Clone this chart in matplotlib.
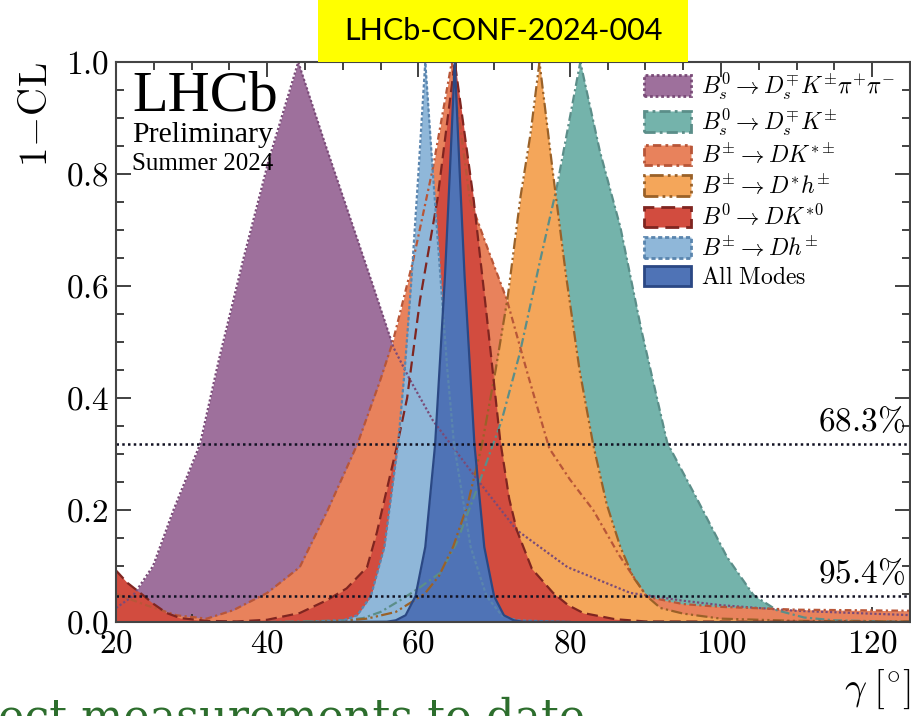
import matplotlib.pyplot as plt
from matplotlib.patches import Patch, Rectangle
from matplotlib.ticker import MultipleLocator, FuncFormatter

plt.rcParams['mathtext.fontset'] = 'cm'
plt.rcParams['font.family'] = ['Liberation Serif', 'DejaVu Serif']

# Escaneos 1-CL de gamma (grados) para cada modo
gam_dskpipi = [20, 22.2, 24.9, 27.6, 31.1, 33.6, 36.8, 40.2, 44.1, 47.5, 51.0, 54.0, 56.7,
               58.9, 61.9, 67.8, 73.0, 79.7, 88.0, 95, 100, 110, 125.5]
cl_dskpipi = [0.025, 0.046, 0.10, 0.20, 0.317, 0.468, 0.646, 0.825, 1.0, 0.86, 0.72, 0.60, 0.49,
              0.432, 0.36, 0.254, 0.164, 0.098, 0.052, 0.038, 0.03, 0.02, 0.012]

gam_dsk = [40, 45, 50, 52.7, 55, 57.6, 60, 62.9, 65, 67.8, 71, 73.4, 76, 78.3, 81.4,
           84, 86.7, 89.5, 92.9, 96.9, 100.8, 104.3, 107.4, 111, 115, 125.5]
cl_dsk = [0.0, 0.001, 0.003, 0.007, 0.018, 0.039, 0.06, 0.088, 0.14, 0.24, 0.36, 0.48, 0.64, 0.777, 1.0,
          0.84, 0.705, 0.52, 0.32, 0.218, 0.116, 0.048, 0.021, 0.008, 0.003, 0.0]

gam_dkst = [20, 24, 28, 32, 35.5, 40, 44.3, 48, 51.9, 54.9, 56.6, 59.3, 61.9, 64.4,
            66.8, 69.2, 71.7, 74.5, 77.3, 80, 83.1, 86.5, 90.2, 95, 100, 110, 125.5]
cl_dkst = [0.05, 0.03, 0.012, 0.006, 0.021, 0.052, 0.098, 0.20, 0.317, 0.43, 0.50, 0.646, 0.81, 1.0,
           0.754, 0.665, 0.575, 0.44, 0.31, 0.255, 0.2, 0.12, 0.045, 0.032, 0.027, 0.022, 0.02]

gam_dsth = [45, 50, 53.2, 57, 60.8, 62.7, 64.6, 66.5, 68.4, 70.2, 71.8, 73.5, 74.8, 76,
            77.8, 79.5, 81.3, 83.1, 84.9, 86.7, 88.4, 90.2, 92, 95, 100, 110, 125.5]
cl_dsth = [0.0, 0.002, 0.006, 0.018, 0.05, 0.082, 0.135, 0.21, 0.317, 0.45, 0.58, 0.76, 0.87, 1.0,
           0.8, 0.62, 0.45, 0.317, 0.21, 0.134, 0.08, 0.046, 0.025, 0.015, 0.006, 0.002, 0.001]

gam_dkst0 = [20, 21.5, 23.2, 25, 26.7, 28.5, 32, 36, 40, 44.3, 47.9, 50.5, 53.2, 54.5, 55.8,
             57.2, 58.5, 60.2, 62.5, 64.8, 67.3, 69, 70.8, 72, 73, 75, 77.8, 79.8, 81.8, 86, 90, 125.5]
cl_dkst0 = [0.092, 0.07, 0.052, 0.032, 0.016, 0.007, 0.002, 0.001, 0.004, 0.016, 0.039, 0.06, 0.098,
            0.16, 0.236, 0.317, 0.40, 0.575, 0.754, 1.0, 0.754, 0.55, 0.325, 0.22, 0.164, 0.095,
            0.052, 0.03, 0.016, 0.005, 0.001, 0.0]

gam_dh = [45, 50.1, 51.9, 53.7, 55.5, 57.3, 58.2, 59.1, 60.0, 60.9, 61.9, 62.9, 63.8, 64.7,
          66.9, 69.0, 71, 73, 80]
cl_dh = [0.0, 0.003, 0.012, 0.046, 0.134, 0.317, 0.453, 0.617, 0.803, 1.0, 0.803, 0.617, 0.453,
         0.317, 0.134, 0.046, 0.012, 0.003, 0.0]

gam_all = [50, 55.8, 57.0, 58.3, 59.6, 60.9, 62.2, 63.5, 64.15, 64.8, 65.45, 66.1, 67.4, 68.7,
           70.0, 71.3, 72.6, 73.8, 80]
cl_all = [0.0, 0.0005, 0.003, 0.012, 0.046, 0.134, 0.317, 0.617, 0.803, 1.0, 0.803, 0.617, 0.317,
          0.134, 0.046, 0.012, 0.003, 0.0005, 0.0]

etiquetas = [r'$B_s^0 \rightarrow D_s^{\mp} K^{\pm}\pi^{+}\pi^{-}$',
             r'$B_s^0 \rightarrow D_s^{\mp} K^{\pm}$',
             r'$B^{\pm} \rightarrow D K^{*\pm}$',
             r'$B^{\pm} \rightarrow D^{*} h^{\pm}$',
             r'$B^{0} \rightarrow D K^{*0}$',
             r'$B^{\pm} \rightarrow D h^{\pm}$',
             r'$\mathrm{All\ Modes}$']

# (x, y, relleno, borde, estilo de linea)
modos = [
    (gam_dskpipi, cl_dskpipi, '#9e709c', '#7a4b78', (0, (1, 1))),
    (gam_dsk, cl_dsk, '#74b3ab', '#5b8e89', (0, (4, 1.5, 1, 1.5))),
    (gam_dkst, cl_dkst, '#e8825c', '#b85638', (0, (3, 1.5, 1, 1.5))),
    (gam_dsth, cl_dsth, '#f4a65a', '#9a6128', (0, (5, 1.5, 1, 1.5, 1, 1.5))),
    (gam_dkst0, cl_dkst0, '#d24c3f', '#7f2520', (0, (5, 2.5))),
    (gam_dh, cl_dh, '#8fb7d9', '#5a85ae', (0, (1.5, 1))),
    (gam_all, cl_all, '#4f73b6', '#2b4884', '-'),
]

fig = plt.figure(figsize=(9.12, 7.16), dpi=100)
ax = fig.add_axes([116 / 912, 1 - 622 / 716, 794 / 912, 560 / 716])

for i, (x, y, fc, ec, ls) in enumerate(modos):
    ax.fill_between(x, y, 0, color=fc, lw=0, zorder=1 + i)
for x, y, fc, ec, ls in modos:
    ax.plot(x, y, color=ec, ls=ls, lw=1.6, zorder=10)

# Niveles de confianza
ax.axhline(0.317, color='#111122', ls=(0, (1, 1.3)), lw=1.8, zorder=12)
ax.axhline(0.046, color='#111122', ls=(0, (1, 1.3)), lw=1.8, zorder=12)
ax.text(124.4, 0.328, r'$68.3\%$', ha='right', va='bottom', fontsize=24, zorder=13)
ax.text(124.4, 0.057, r'$95.4\%$', ha='right', va='bottom', fontsize=24, zorder=13)

ax.set_xlim(20, 125)
ax.set_ylim(0, 1)
ax.xaxis.set_major_locator(MultipleLocator(20))
ax.xaxis.set_minor_locator(MultipleLocator(5))
ax.yaxis.set_major_locator(MultipleLocator(0.2))
ax.yaxis.set_minor_locator(MultipleLocator(0.05))
ax.xaxis.set_major_formatter(FuncFormatter(lambda v, p: f'${v:.0f}$'))
ax.yaxis.set_major_formatter(FuncFormatter(lambda v, p: f'${v:.1f}$'))
ax.tick_params(which='both', direction='in', top=True, right=True, labelsize=24, width=1.3, colors='#333333', labelcolor='black')
ax.tick_params(which='major', length=11, pad=5)
ax.tick_params(which='minor', length=6)
for s in ax.spines.values():
    s.set_linewidth(1.5)
    s.set_color('#444444')
    s.set_zorder(20)

ax.set_ylabel(r'$1\!-\!\mathrm{CL}$', fontsize=28, loc='top', labelpad=7)
ax.set_xlabel(r'$\gamma\;[^{\circ}]$', fontsize=28, loc='right', labelpad=6)

# Textos LHCb
ax.text(0.02, 0.984, 'LHCb', transform=ax.transAxes, fontsize=42, va='top', ha='left', zorder=14)
ax.text(0.02, 0.893, 'Preliminary', transform=ax.transAxes, fontsize=21.5, va='top', ha='left', zorder=14)
ax.text(0.02, 0.838, 'Summer 2024', transform=ax.transAxes, fontsize=18, va='top', ha='left', zorder=14)

handles = [Patch(facecolor=fc, edgecolor=ec, linestyle=ls, linewidth=2)
           for x, y, fc, ec, ls in modos]
leg = ax.legend(handles, etiquetas, loc='upper left', bbox_to_anchor=(0.665, 0.985),
                frameon=False, fontsize=17, handlelength=2.0, handleheight=0.95,
                handletextpad=0.4, labelspacing=0.22, borderpad=0, borderaxespad=0)
leg.set_zorder(15)

# Recuadro amarillo con la referencia
fig.patches.append(Rectangle((318 / 912, 1 - 62 / 716), 370 / 912, 62 / 716,
                             transform=fig.transFigure, facecolor='#ffff00', edgecolor='none', zorder=30))
fig.text(503 / 912, 1 - 31 / 716, 'LHCb-CONF-2024-004', ha='center', va='center',
         fontsize=22, family='Lato', color='black', zorder=31)

# Texto verde cortado al pie
fig.text(-0.002, -0.02, 'ect measurements to date', ha='left', va='baseline',
         fontsize=32, family='DejaVu Serif', color='#2d6e2d')

fig.savefig('out.png', dpi=100)
